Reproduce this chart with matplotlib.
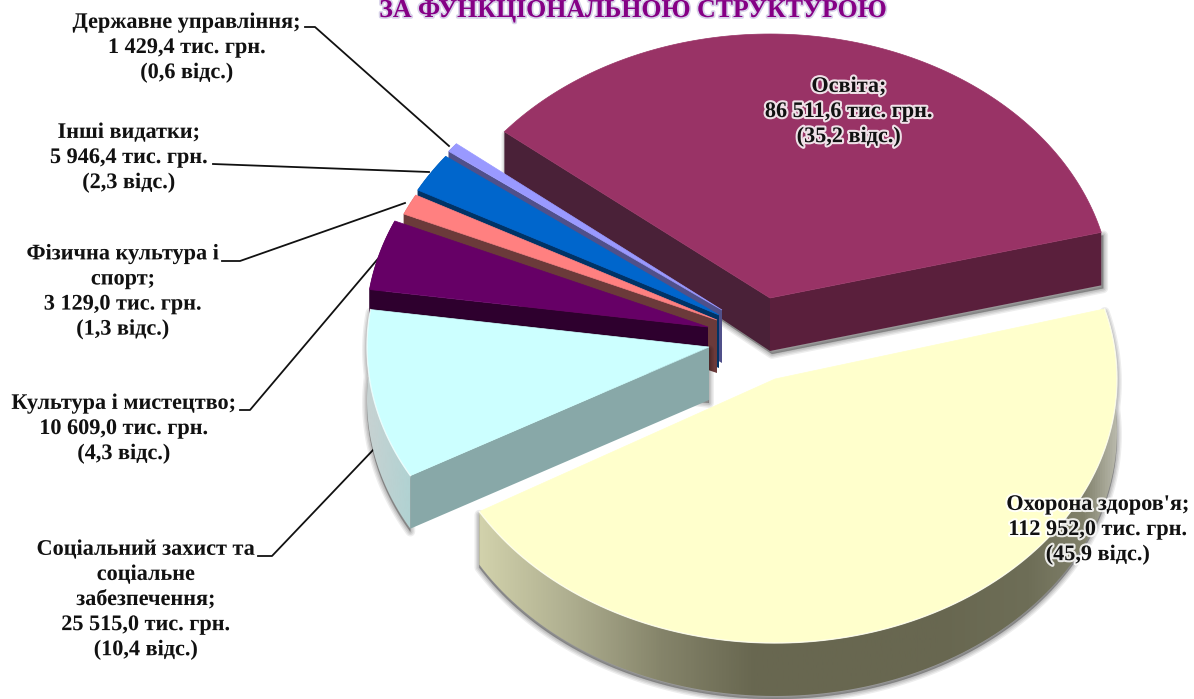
import numpy as np
import matplotlib
matplotlib.use("Agg")
import matplotlib.pyplot as plt
from matplotlib.patches import Polygon
import matplotlib.patheffects as pe
from matplotlib.colors import LinearSegmentedColormap

# ---- data ----
names = ["Освіта", "Державне управління", "Інші видатки",
         "Фізична культура і спорт", "Культура і мистецтво",
         "Соціальний захист та соціальне забезпечення", "Охорона здоров'я"]
values = [86511.6, 1429.4, 5946.4, 3129.0, 10609.0, 25515.0, 112952.0]
percents = [35.2, 0.6, 2.3, 1.3, 4.3, 10.4, 45.9]
value_labels = ["86 511,6 тис. грн.", "1 429,4 тис. грн.", "5 946,4 тис. грн.",
                "3 129,0 тис. грн.", "10 609,0 тис. грн.", "25 515,0 тис. грн.",
                "112 952,0 тис. грн."]
percent_labels = ["(35,2 відс.)", "(0,6 відс.)", "(2,3 відс.)", "(1,3 відс.)",
                  "(4,3 відс.)", "(10,4 відс.)", "(45,9 відс.)"]
name_lines = ["Освіта;", "Державне управління;", "Інші видатки;",
              "Фізична культура і\nспорт;", "Культура і мистецтво;",
              "Соціальний захист та\nсоціальне\nзабезпечення;", "Охорона здоров'я;"]
title = "ЗА ФУНКЦІОНАЛЬНОЮ СТРУКТУРОЮ"

# ---- style / layout ----
top_colors = ["#993366", "#9999FF", "#0066CC", "#FF8080", "#660066", "#CCFFFF", "#FFFFCC"]
cut_colors = ["#4A2138", "#50508A", "#003366", "#6B3A3A", "#2E002E", "#88A8A8", "#6A6750"]
apex = [(770, 298), (722, 310), (719, 315), (717, 320), (708, 327), (709, 347), (775, 379)]
angle_nudge = [0, 0, 0, 0, 0, 0, 1.0]
label_pos = [(849, 112), (187, 48), (129, 158), (123, 292), (124, 429), (146, 600), (1098, 530)]
leaders = [None,
           [(305, 27), (315, 27), (449, 146)],
           [(213, 164), (429, 172)],
           [(222, 261), (240, 261), (405, 203)],
           [(240, 410), (250, 410), (382, 254)],
           [(258, 556), (272, 556), (374, 449)],
           None]
RX, RY, DEPTH = 342.0, 264.0, 53.0
FAR_DEPTH = 43.0
START = 14.4
FONT = ["Liberation Serif", "DejaVu Serif"]
health_rim = [(0.00, "#D2D2AC"), (0.14, "#AFAF90"), (0.285, "#85846A"), (0.43, "#686750"),
              (0.72, "#686750"), (0.86, "#6E6E57"), (0.945, "#80806A"), (1.00, "#BDBDB0")]

fig = plt.figure(figsize=(11.94, 6.99), dpi=100)
ax = fig.add_axes([0, 0, 1, 1])
ax.set_xlim(0, 1194)
ax.set_ylim(699, 0)
ax.axis("off")

frac = np.array(values) / np.sum(values)
edges = START + 360 * np.concatenate([[0], np.cumsum(frac)])


def arc(c, a0, a1, n=120):
    t = np.radians(np.linspace(a0, a1, n))
    return np.column_stack([c[0] + RX * np.cos(t), c[1] - RY * np.sin(t)])


def shadow(pts, z, dx=0, dy=3):
    for w, al in zip([7, 5, 3, 1], [0.07, 0.08, 0.09, 0.09]):
        ax.add_patch(Polygon(pts + [dx, dy], closed=True, fc="#000000", ec="#000000",
                             lw=w, alpha=al, zorder=z, joinstyle="round"))


def gradient_rim(pts, colors, x0, x1, z):
    cmap = LinearSegmentedColormap.from_list("g", colors)
    poly = Polygon(pts, closed=True, fc="none", ec="none", zorder=z)
    ax.add_patch(poly)
    im = ax.imshow(np.linspace(0, 1, 512)[None, :], cmap=cmap, aspect="auto",
                   extent=(x0, x1, 699, 0), zorder=z)
    im.set_clip_path(poly)


def rim_outline(c, a0, a1):
    top = arc(c, a0, a1)
    return np.vstack([top, top[::-1] + [0, DEPTH]])


order = [0, 1, 2, 3, 4, 6, 5]
for base_z, i in enumerate(order):
    z = 2 + base_z * 2
    c = np.array(apex[i], float)
    a0, a1 = edges[i] + angle_nudge[i], edges[i + 1] + angle_nudge[i]
    rim = arc(c, a0, a1)
    sector = np.vstack([c, rim])
    end_pt = rim[-1]
    start_pt = rim[0]
    if i == 6:
        out = rim_outline(c, a0, a1)
        shadow(out, z)
        gradient_rim(out, health_rim, 478, 1120, z + 0.5)
    elif i == 0:
        f = np.array([end_pt, c, start_pt, start_pt + [0, DEPTH], c + [0, DEPTH],
                      end_pt + [0, FAR_DEPTH]])
        shadow(f, z, dx=2, dy=3)
        ax.add_patch(Polygon(np.array([c, start_pt, start_pt + [0, DEPTH], c + [0, DEPTH]]),
                             closed=True, fc="#5A1F3C", ec="none", zorder=z + 0.7))
        ax.add_patch(Polygon(np.array([c, end_pt, end_pt + [0, FAR_DEPTH], c + [0, DEPTH]]),
                             closed=True, fc=cut_colors[i], ec="none", zorder=z + 0.6))
    else:
        if i == 5:
            shadow(np.vstack([rim_outline(c, a0, a1), c + [0, DEPTH], c]), z)
            gradient_rim(rim_outline(c, a0, a1), ["#C8D2D2", "#B0D2D2"], 366, 412, z + 0.5)
        else:
            ax.add_patch(Polygon(rim_outline(c, a0, a1), closed=True, fc=cut_colors[i],
                                 ec="none", zorder=z + 0.4))
        ax.add_patch(Polygon(np.array([c, end_pt, end_pt + [0, DEPTH], c + [0, DEPTH]]),
                             closed=True, fc=cut_colors[i], ec="none", zorder=z + 0.6))
    ax.add_patch(Polygon(sector, closed=True, fc=top_colors[i], ec=top_colors[i],
                         lw=0.5, zorder=z + 1))
    if i in (5, 6):
        ax.plot(rim[:, 0], rim[:, 1], color="#FFFFFF", lw=1.0, alpha=0.6, zorder=z + 1.1)

# leader lines
for seg in leaders:
    if seg is not None:
        xy = np.array(seg)
        ax.plot(xy[:, 0], xy[:, 1], color="#111111", lw=1.3, zorder=1)

# labels
for i, (x, y) in enumerate(label_pos):
    txt = f"{name_lines[i]}\n{value_labels[i]}\n{percent_labels[i]}"
    t = ax.text(x, y, txt, ha="center", va="center", ma="center", family=FONT, fontweight="bold",
                fontsize=16, linespacing=1.34, color="#111111", zorder=40)
    t.set_path_effects([pe.withStroke(linewidth=3, foreground="#FFFFFF", alpha=0.85)])

tt = ax.text(634, 17, title, ha="center", va="baseline", family=FONT, fontweight="bold",
             fontsize=18.6, color="#850085", zorder=40)
tt.set_path_effects([pe.withStroke(linewidth=2.5, foreground="#CFC8E4", alpha=0.8)])

fig.savefig("out.png", dpi=100)
